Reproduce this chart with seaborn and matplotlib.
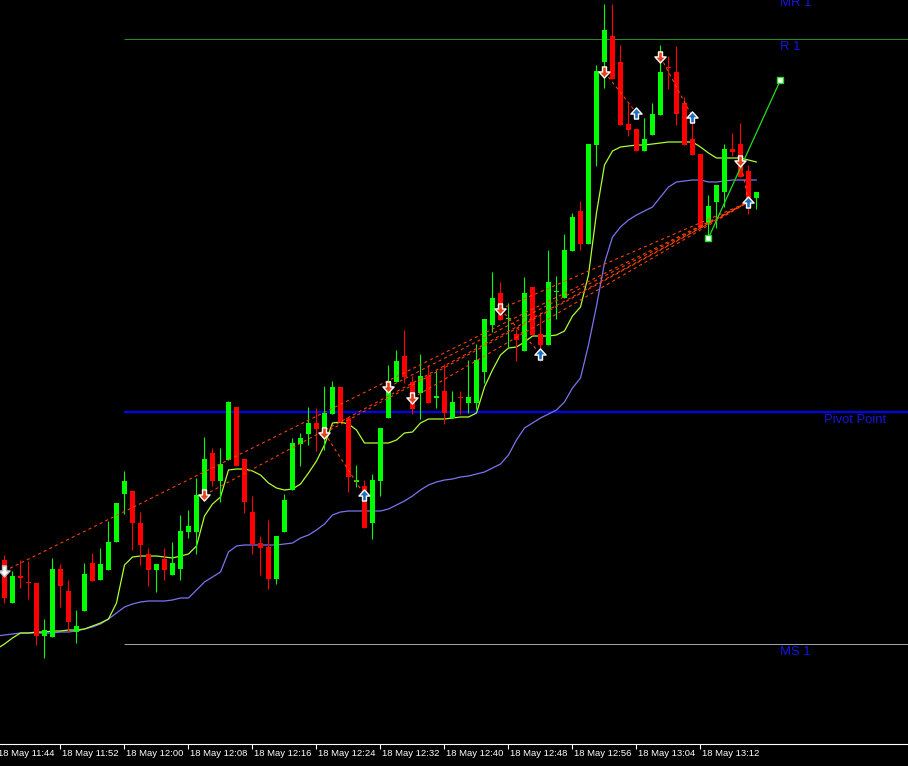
import numpy as np
import pandas as pd
import matplotlib
matplotlib.use("Agg")
import matplotlib.pyplot as plt
import matplotlib.transforms as mtransforms
from matplotlib.path import Path
import seaborn as sns

# one-minute bars from 18 May 11:45, levels in points above the time axis
opens = [183, 140, 167, 161, 160, 107, 106, 174, 152, 111, 132, 180, 163, 173, 201, 249,
         252, 220, 189, 173, 184, 168, 174, 211, 211, 253, 290, 262, 283, 336, 284, 231,
         200, 196, 164, 211, 253, 299, 309, 320, 311, 329, 356, 325, 261, 257, 220, 262,
         325, 361, 387, 361, 350, 367, 345, 352, 325, 346, 340, 340, 371, 418, 450, 424,
         409, 392, 456, 409, 398, 451, 445, 492, 532, 499, 598, 681, 707, 681, 619, 614,
         592, 608, 628, 676, 671, 640, 604, 589, 520, 541, 551, 594, 599, 572, 545]
highs = [188, 172, 183, 182, 160, 124, 185, 179, 163, 133, 180, 190, 195, 222, 240, 272,
         252, 231, 195, 179, 195, 201, 228, 233, 265, 306, 295, 295, 342, 336, 284, 247,
         207, 223, 207, 249, 305, 310, 336, 335, 357, 362, 356, 325, 278, 263, 269, 315,
         378, 393, 413, 367, 389, 378, 373, 379, 352, 352, 383, 399, 424, 471, 461, 440,
         414, 466, 456, 431, 493, 467, 509, 530, 542, 599, 678, 739, 739, 698, 640, 614,
         625, 640, 698, 687, 697, 646, 630, 589, 548, 558, 599, 610, 620, 578, 551]
lows = [140, 140, 155, 144, 98, 85, 106, 136, 111, 100, 132, 162, 163, 173, 201, 229,
        193, 178, 157, 151, 163, 168, 163, 205, 189, 243, 257, 241, 283, 277, 230, 189,
        168, 154, 159, 211, 253, 277, 298, 292, 293, 329, 321, 251, 256, 215, 204, 247,
        325, 361, 360, 329, 324, 340, 335, 319, 325, 329, 330, 334, 360, 411, 423, 396,
        382, 392, 408, 382, 398, 424, 445, 492, 493, 499, 577, 655, 664, 618, 607, 592,
        592, 608, 628, 654, 618, 598, 588, 515, 504, 515, 536, 587, 566, 529, 534]
closes = [145, 167, 165, 160, 107, 113, 174, 157, 121, 117, 169, 162, 179, 201, 240, 262,
          220, 198, 173, 179, 173, 180, 212, 217, 248, 284, 262, 279, 341, 277, 241, 199,
          195, 164, 207, 243, 300, 305, 320, 314, 330, 356, 321, 266, 263, 215, 263, 315,
          362, 382, 366, 334, 367, 340, 347, 330, 341, 345, 346, 383, 424, 445, 423, 424,
          403, 450, 408, 398, 461, 451, 493, 526, 499, 599, 672, 713, 664, 618, 613, 592,
          604, 629, 671, 675, 629, 598, 588, 515, 537, 558, 594, 591, 566, 543, 551]

# smoothed lines, one value per bar from 11:44 (bar -1) to bar 94
fast_line = [94, 99, 105, 110, 110, 111, 111, 112, 112, 113, 113, 114, 117, 120, 124, 140,
             178, 186, 187, 187, 187, 186, 185, 187, 189, 197, 227, 239, 246, 273, 274, 274,
             272, 268, 260, 255, 253, 254, 259, 270, 282, 298, 320, 321, 319, 313, 300, 300,
             300, 300, 303, 310, 311, 320, 324, 324, 324, 325, 326, 326, 330, 356, 373, 388,
             395, 396, 401, 407, 407, 407, 408, 412, 427, 436, 468, 530, 578, 592, 596, 597,
             598, 598, 599, 600, 601, 601, 601, 601, 596, 590, 585, 585, 585, 585, 583, 581]
slow_line = [107, 108, 109, 110, 110, 110, 110, 110, 111, 111, 112, 114, 116, 119, 124, 130,
             136, 139, 141, 142, 142, 142, 143, 145, 145, 153, 161, 166, 171, 191, 197, 198,
             198, 198, 198, 198, 199, 200, 205, 208, 213, 219, 228, 231, 232, 232, 232, 232,
             232, 234, 238, 242, 247, 253, 258, 261, 263, 264, 266, 267, 269, 271, 275, 279,
             288, 303, 315, 320, 325, 329, 333, 341, 355, 365, 398, 437, 480, 506, 516, 523,
             528, 532, 536, 546, 556, 561, 562, 563, 563, 561, 561, 562, 563, 563, 563, 563]

# arrow signals
first_bar, first_level = 0, 172
sell_bars = [25, 40, 48, 51, 62, 75, 82, 92]
sell_levels = [248, 310, 356, 345, 434, 671, 686, 582]
buy_bars = [45, 67, 79, 86, 93]
buy_levels = [248, 389, 630, 626, 541]

# dashed trend lines: from these signals to the last buy signal
trend_from_bars = [0, 25, 40, 48, 51, 62]
trend_from_levels = [172, 248, 310, 356, 345, 434]
# dashed swings: sell signal -> next buy signal
swing_sell = [(40, 310), (62, 434), (75, 671), (82, 686), (92, 582)]
swing_buy = [(45, 248), (67, 389), (79, 630), (86, 626), (93, 541)]

# projection line
proj_bars = [88, 97]
proj_levels = [505, 663]

# pivot levels
level_names = ["MR 1", "R 1", "Pivot Point", "MS 1"]
level_values = [751, 704, 331, 99]
level_colors = ["#228b22", "#228b22", "#0000ff", "#a0a0a0"]
level_widths = [0.75, 0.75, 1.5, 0.75]

tick_bars = [-1, 7, 15, 23, 31, 39, 47, 55, 63, 71, 79, 87]
tick_labels = ["18 May 11:44", "18 May 11:52", "18 May 12:00", "18 May 12:08",
               "18 May 12:16", "18 May 12:24", "18 May 12:32", "18 May 12:40",
               "18 May 12:48", "18 May 12:56", "18 May 13:04", "18 May 13:12"]

sns.set_theme(style="dark", rc={"axes.facecolor": "black", "figure.facecolor": "black"})
plt.rcParams["font.family"] = ["Liberation Sans", "DejaVu Sans"]

fig = plt.figure(figsize=(9.08, 7.66), dpi=100)
ax = fig.add_axes([0, 22 / 766, 1, 744 / 766])
ax.set_facecolor("black")

df = pd.DataFrame({"bar": np.arange(len(opens)), "open": opens, "high": highs,
                   "low": lows, "close": closes})
df["color"] = np.where(df["close"] >= df["open"], "#00ff00", "#ff0000")
df["body_lo"] = df[["open", "close"]].min(axis=1)
df["body_h"] = (df["close"] - df["open"]).abs().clip(lower=1)

# pivot levels
for val, col, lw in zip(level_values, level_colors, level_widths):
    ax.hlines(val, 15, 120, color=col, lw=lw, zorder=1)

# smoothed lines
bars_line = np.arange(-1, len(fast_line) - 1)
sns.lineplot(x=bars_line, y=slow_line, ax=ax, color="#7b74f0", lw=0.9, zorder=2)
sns.lineplot(x=bars_line, y=fast_line, ax=ax, color="#adff2f", lw=0.9, zorder=2)

# candles
ax.vlines(df["bar"], df["low"], df["high"], colors=df["color"], lw=0.8, zorder=3)
ax.bar(df["bar"], df["body_h"], bottom=df["body_lo"], width=0.625,
       color=df["color"], lw=0, zorder=3)

# dashed lines
dash_col = "#ff4500"
for b, l in zip(trend_from_bars, trend_from_levels):
    ax.plot([b, buy_bars[-1]], [l, buy_levels[-1]], color=dash_col, lw=0.75,
            dashes=(3, 3), zorder=4)
for (b1, l1), (b2, l2) in zip(swing_sell, swing_buy):
    ax.plot([b1, b2], [l1, l2], color=dash_col, lw=0.75, dashes=(3, 3), zorder=4)

# projection
ax.plot(proj_bars, proj_levels, color="#22dd22", lw=0.9, zorder=5)
ax.plot(proj_bars, proj_levels, ls="none", marker="s", ms=4, mfc="white",
        mec="#22dd22", mew=1, zorder=6)

# arrow markers
down_arrow = Path([(-0.18, 0.5), (0.18, 0.5), (0.18, 0.05), (0.5, 0.05), (0, -0.5),
                   (-0.5, 0.05), (-0.18, 0.05), (-0.18, 0.5)], closed=True)
up_arrow = Path([(x, -y) for x, y in down_arrow.vertices], closed=True)
ax.plot(sell_bars, sell_levels, ls="none", marker=down_arrow, ms=8, mfc="#e8401c",
        mec="white", mew=1, zorder=7)
ax.plot(buy_bars, buy_levels, ls="none", marker=up_arrow, ms=8, mfc="#1f6fc0",
        mec="white", mew=1, zorder=7)
ax.plot([first_bar], [first_level], ls="none", marker=down_arrow, ms=8, mfc="white",
        mec="#c0c0c0", mew=1, zorder=7)

# level labels
lab_col = "#1414e6"
ax.text(96.9, 737, level_names[0], color=lab_col, fontsize=9.4, va="baseline", ha="left")
ax.text(96.9, 701.5, level_names[1], color=lab_col, fontsize=9.4, va="top", ha="left")
ax.text(102.4, 329, level_names[2], color=lab_col, fontsize=9.4, va="top", ha="left")
ax.text(97.0, 97, level_names[3], color=lab_col, fontsize=9.4, va="top", ha="left")

ax.set_xlim(-0.5625, 112.94)
ax.set_ylim(-1, 743)
ax.grid(False)
for s in ["top", "left", "right"]:
    ax.spines[s].set_visible(False)
ax.spines["bottom"].set_color("white")
ax.spines["bottom"].set_linewidth(0.8)
ax.set_yticks([])
ax.set_xticks(tick_bars[1:])
ax.tick_params(axis="x", direction="out", length=3.5, width=0.8, color="white",
               labelbottom=False, bottom=True)
ax.set_xlabel("")
ax.set_ylabel("")

trans = mtransforms.blended_transform_factory(ax.transData, fig.transFigure)
for b, lab in zip(tick_bars, tick_labels):
    ax.text(b + 0.15, (766 - 749) / 766, lab, transform=trans, color="white",
            fontsize=6.8, ha="left", va="top", clip_on=False)

fig.savefig("out.png", dpi=100, facecolor="black")
